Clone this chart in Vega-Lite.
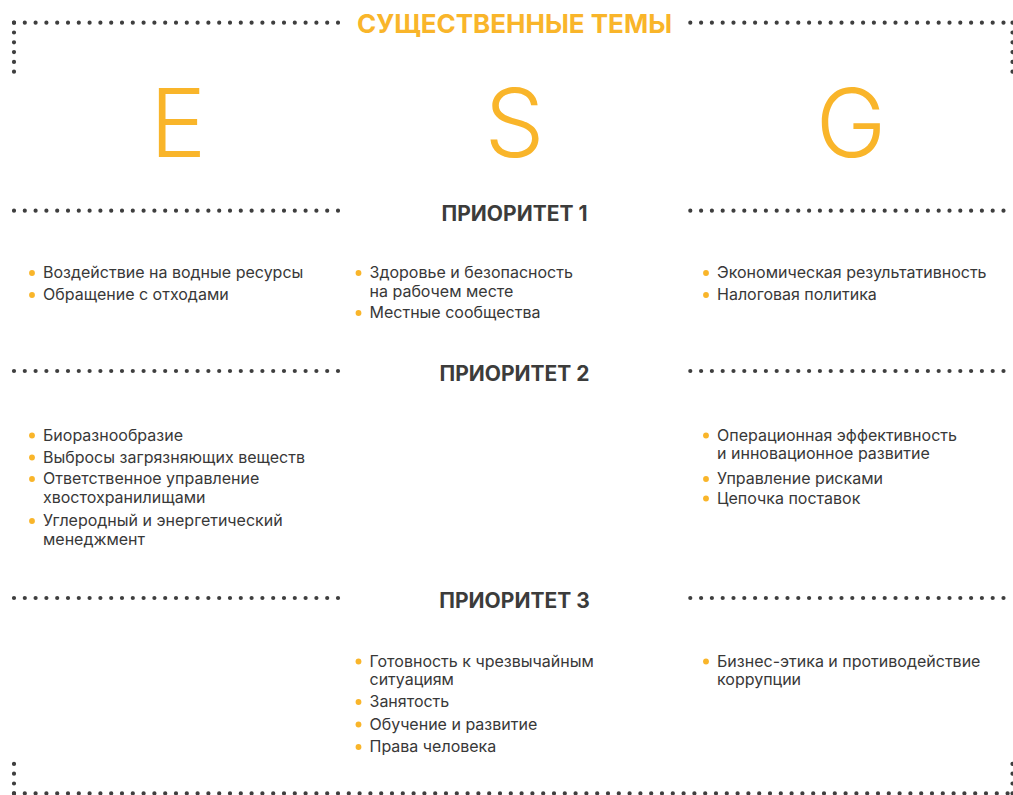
{
  "$schema": "https://vega.github.io/schema/vega-lite/v6.json",
  "width": 1013,
  "height": 795,
  "padding": 0,
  "autosize": {"type": "none"},
  "background": "#ffffff",
  "config": {"view": {"stroke": null}},
  "datasets": {
    "frameH": [
      {"level": 0, "from": 0, "to": 1},
      {"level": 0, "from": 2, "to": 3},
      {"level": 1, "from": 0, "to": 1},
      {"level": 1, "from": 2, "to": 3},
      {"level": 2, "from": 0, "to": 1},
      {"level": 2, "from": 2, "to": 3},
      {"level": 3, "from": 0, "to": 1},
      {"level": 3, "from": 2, "to": 3},
      {"level": 4, "from": 0, "to": 3}
    ],
    "frameV": [
      {"side": 0, "from": 0, "to": 1},
      {"side": 1, "from": 0, "to": 1},
      {"side": 0, "from": 3, "to": 2},
      {"side": 1, "from": 3, "to": 2}
    ],
    "pillars": [
      {"pillar": "E"},
      {"pillar": "S"},
      {"pillar": "G"}
    ],
    "priorities": [
      {"priority": 1, "label": "ПРИОРИТЕТ 1"},
      {"priority": 2, "label": "ПРИОРИТЕТ 2"},
      {"priority": 3, "label": "ПРИОРИТЕТ 3"}
    ],
    "items": [
      {"priority": 1, "pillar": "E", "line": 0, "text": "Воздействие на водные ресурсы"},
      {"priority": 1, "pillar": "E", "line": 1, "text": "Обращение с отходами"},
      {"priority": 1, "pillar": "S", "line": 0, "text": "Здоровье и безопасность\nна рабочем месте"},
      {"priority": 1, "pillar": "S", "line": 2, "text": "Местные сообщества"},
      {"priority": 1, "pillar": "G", "line": 0, "text": "Экономическая результативность"},
      {"priority": 1, "pillar": "G", "line": 1, "text": "Налоговая политика"},
      {"priority": 2, "pillar": "E", "line": 3, "text": "Биоразнообразие"},
      {"priority": 2, "pillar": "E", "line": 4, "text": "Выбросы загрязняющих веществ"},
      {"priority": 2, "pillar": "E", "line": 5, "text": "Ответственное управление\nхвостохранилищами"},
      {"priority": 2, "pillar": "E", "line": 7, "text": "Углеродный и энергетический\nменеджмент"},
      {"priority": 2, "pillar": "G", "line": 3, "text": "Операционная эффективность\nи инновационное развитие"},
      {"priority": 2, "pillar": "G", "line": 5, "text": "Управление рисками"},
      {"priority": 2, "pillar": "G", "line": 6, "text": "Цепочка поставок"},
      {"priority": 3, "pillar": "S", "line": 8, "text": "Готовность к чрезвычайным\nситуациям"},
      {"priority": 3, "pillar": "S", "line": 10, "text": "Занятость"},
      {"priority": 3, "pillar": "S", "line": 11, "text": "Обучение и развитие"},
      {"priority": 3, "pillar": "S", "line": 12, "text": "Права человека"},
      {"priority": 3, "pillar": "G", "line": 8, "text": "Бизнес-этика и противодействие\nкоррупции"}
    ]
  },
  "resolve": {"scale": {"x": "independent", "y": "independent"}},
  "layer": [
    {
      "data": {"name": "frameH"},
      "mark": {"type": "rule", "color": "#3E3E3E", "strokeWidth": 4.2, "strokeCap": "round", "strokeDash": [0, 10.8]},
      "encoding": {
        "x": {"field": "from", "type": "quantitative", "scale": {"domain": [0, 1, 2, 3], "range": [14, 338.3, 690.3, 1012], "nice": false, "zero": false}, "axis": null},
        "x2": {"field": "to"},
        "y": {"field": "level", "type": "quantitative", "scale": {"domain": [0, 1, 2, 3, 4], "range": [22.7, 210.7, 371, 598, 793.3], "nice": false, "zero": false}, "axis": null}
      }
    },
    {
      "data": {"name": "frameV"},
      "mark": {"type": "rule", "color": "#3E3E3E", "strokeWidth": 4.2, "strokeCap": "round", "strokeDash": [0, 9.8]},
      "encoding": {
        "x": {"field": "side", "type": "quantitative", "scale": {"domain": [0, 1], "range": [14, 1012.5], "nice": false, "zero": false}, "axis": null},
        "y": {"field": "from", "type": "quantitative", "scale": {"domain": [0, 1, 2, 3], "range": [22.7, 72, 762.5, 793.3], "nice": false, "zero": false}, "axis": null},
        "y2": {"field": "to"}
      }
    },
    {
      "data": {"values": [{"heading": "СУЩЕСТВЕННЫЕ ТЕМЫ"}]},
      "mark": {"type": "text", "align": "center", "baseline": "alphabetic", "font": "Inter", "fontSize": 26, "fontWeight": 700, "color": "#F9B52A"},
      "encoding": {
        "x": {"datum": "S", "type": "nominal", "scale": {"type": "point", "domain": ["E", "S", "G"], "range": [178, 851], "padding": 0}, "axis": null},
        "y": {"datum": "title", "type": "nominal", "scale": {"type": "point", "domain": ["title"], "range": [32.8, 32.8]}, "axis": null},
        "text": {"field": "heading"}
      }
    },
    {
      "data": {"name": "pillars"},
      "mark": {"type": "text", "align": "center", "baseline": "alphabetic", "font": "Inter", "fontSize": 95, "fontWeight": 300, "color": "#F9B52A"},
      "encoding": {
        "x": {"field": "pillar", "type": "nominal", "scale": {"type": "point", "domain": ["E", "S", "G"], "range": [178, 851], "padding": 0}, "axis": null},
        "y": {"datum": "letters", "type": "nominal", "scale": {"type": "point", "domain": ["letters"], "range": [157, 157]}, "axis": null},
        "text": {"field": "pillar"}
      }
    },
    {
      "data": {"name": "priorities"},
      "mark": {"type": "text", "align": "center", "baseline": "alphabetic", "font": "Inter", "fontSize": 21, "fontWeight": 700, "color": "#3C3C3B"},
      "encoding": {
        "x": {"datum": "S", "type": "nominal", "scale": {"type": "point", "domain": ["E", "S", "G"], "range": [178, 851], "padding": 0}, "axis": null},
        "y": {"field": "priority", "type": "quantitative", "scale": {"domain": [1, 2, 3], "range": [220.5, 381.3, 607.5], "nice": false, "zero": false}, "axis": null},
        "text": {"field": "label"}
      }
    },
    {
      "data": {"name": "items"},
      "transform": [{"filter": "datum.pillar === 'E'"}],
      "encoding": {
        "x": {"field": "pillar", "type": "nominal", "scale": {"type": "point", "domain": ["E"], "range": [32, 32]}, "axis": null},
        "y": {"field": "line", "type": "quantitative", "scale": {"domain": [0, 1, 2, 3, 4, 5, 6, 7, 8, 9, 10, 11, 12], "range": [273, 295, 313, 435.5, 457.5, 479, 498.5, 521, 661.5, 682, 702, 724.5, 747], "nice": false, "zero": false}, "axis": null}
      },
      "layer": [
        {"mark": {"type": "point", "filled": true, "size": 34, "color": "#F9B52A", "opacity": 1, "strokeWidth": 0}},
        {"mark": {"type": "text", "align": "left", "baseline": "alphabetic", "dx": 11, "dy": 5, "lineBreak": "\n", "lineHeight": 18.5, "font": "Inter", "fontSize": 16, "fontWeight": 400, "color": "#383838"}, "encoding": {"text": {"field": "text"}}}
      ]
    },
    {
      "data": {"name": "items"},
      "transform": [{"filter": "datum.pillar === 'S'"}],
      "encoding": {
        "x": {"field": "pillar", "type": "nominal", "scale": {"type": "point", "domain": ["S"], "range": [358.5, 358.5]}, "axis": null},
        "y": {"field": "line", "type": "quantitative", "scale": {"domain": [0, 1, 2, 3, 4, 5, 6, 7, 8, 9, 10, 11, 12], "range": [273, 295, 313, 435.5, 457.5, 479, 498.5, 521, 661.5, 682, 702, 724.5, 747], "nice": false, "zero": false}, "axis": null}
      },
      "layer": [
        {"mark": {"type": "point", "filled": true, "size": 34, "color": "#F9B52A", "opacity": 1, "strokeWidth": 0}},
        {"mark": {"type": "text", "align": "left", "baseline": "alphabetic", "dx": 11, "dy": 5, "lineBreak": "\n", "lineHeight": 18.5, "font": "Inter", "fontSize": 16, "fontWeight": 400, "color": "#383838"}, "encoding": {"text": {"field": "text"}}}
      ]
    },
    {
      "data": {"name": "items"},
      "transform": [{"filter": "datum.pillar === 'G'"}],
      "encoding": {
        "x": {"field": "pillar", "type": "nominal", "scale": {"type": "point", "domain": ["G"], "range": [706, 706]}, "axis": null},
        "y": {"field": "line", "type": "quantitative", "scale": {"domain": [0, 1, 2, 3, 4, 5, 6, 7, 8, 9, 10, 11, 12], "range": [273, 295, 313, 435.5, 457.5, 479, 498.5, 521, 661.5, 682, 702, 724.5, 747], "nice": false, "zero": false}, "axis": null}
      },
      "layer": [
        {"mark": {"type": "point", "filled": true, "size": 34, "color": "#F9B52A", "opacity": 1, "strokeWidth": 0}},
        {"mark": {"type": "text", "align": "left", "baseline": "alphabetic", "dx": 11, "dy": 5, "lineBreak": "\n", "lineHeight": 18.5, "font": "Inter", "fontSize": 16, "fontWeight": 400, "color": "#383838"}, "encoding": {"text": {"field": "text"}}}
      ]
    }
  ]
}
